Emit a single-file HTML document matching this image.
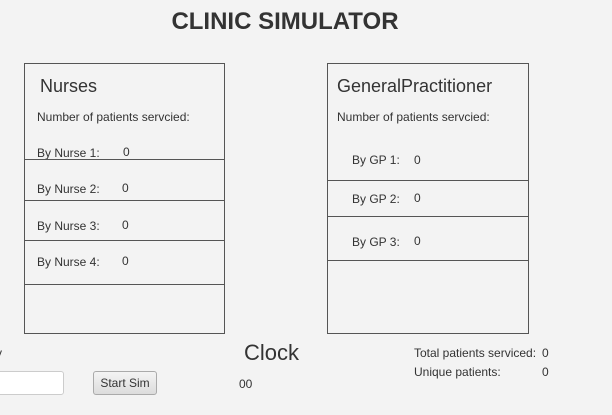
<!DOCTYPE html>
<html><head><meta charset="utf-8"><style>
body{margin:0;width:612px;height:415px;background:#f3f3f3;position:relative;overflow:hidden;font-family:"Liberation Sans",sans-serif;color:#333}
.a{position:absolute;white-space:nowrap}
.s{font-size:12px;color:#333}
.box{position:absolute;border:1px solid #555;box-sizing:border-box}
.ln{position:absolute;height:1px;background:#555}
</style></head><body>
<div class="a" style="left:0;width:570px;text-align:center;top:8px;font-size:24px;font-weight:bold;color:#333">CLINIC SIMULATOR</div>

<div class="box" style="left:24px;top:63px;width:201px;height:271px"></div>
<div class="a" style="left:40px;top:76px;font-size:18px">Nurses</div>
<div class="a s" style="left:37px;top:110px">Number of patients servcied:</div>
<div class="a s" style="left:37px;top:146px">By Nurse 1:</div><div class="a s" style="left:123px;top:145px">0</div>
<div class="ln" style="left:24px;top:159px;width:201px"></div>
<div class="a s" style="left:37px;top:182px">By Nurse 2:</div><div class="a s" style="left:122px;top:181px">0</div>
<div class="ln" style="left:24px;top:200px;width:201px"></div>
<div class="a s" style="left:37px;top:219px">By Nurse 3:</div><div class="a s" style="left:122px;top:218px">0</div>
<div class="ln" style="left:24px;top:240px;width:201px"></div>
<div class="a s" style="left:37px;top:255px">By Nurse 4:</div><div class="a s" style="left:122px;top:254px">0</div>
<div class="ln" style="left:24px;top:284px;width:201px"></div>

<div class="box" style="left:327px;top:63px;width:202px;height:271px"></div>
<div class="a" style="left:337px;top:76px;font-size:18px">GeneralPractitioner</div>
<div class="a s" style="left:337px;top:110px">Number of patients servcied:</div>
<div class="a s" style="left:352px;top:153px">By GP 1:</div><div class="a s" style="left:414px;top:153px">0</div>
<div class="ln" style="left:327px;top:180px;width:202px"></div>
<div class="a s" style="left:352px;top:192px">By GP 2:</div><div class="a s" style="left:414px;top:191px">0</div>
<div class="ln" style="left:327px;top:216px;width:202px"></div>
<div class="a s" style="left:352px;top:235px">By GP 3:</div><div class="a s" style="left:414px;top:234px">0</div>
<div class="ln" style="left:327px;top:260px;width:202px"></div>

<div class="a s" style="left:-4px;top:346px">y</div>
<div class="a" style="left:-6px;top:371px;width:70px;height:24px;background:#fff;border:1px solid #ccc;border-radius:3px;box-sizing:border-box"></div>
<div class="a" style="left:93px;top:371px;width:64px;height:24px;box-sizing:border-box;border:1px solid #aaa;border-radius:3px;background:linear-gradient(#f4f4f4,#dcdcdc);font-size:12px;text-align:center;line-height:22px">Start Sim</div>
<div class="a" style="left:244px;top:340px;font-size:22px">Clock</div>
<div class="a s" style="left:239px;top:377px">00</div>
<div class="a s" style="left:414px;top:346px">Total patients serviced:</div><div class="a s" style="left:542px;top:346px">0</div>
<div class="a s" style="left:414px;top:365px">Unique patients:</div><div class="a s" style="left:542px;top:365px">0</div>
</body></html>
